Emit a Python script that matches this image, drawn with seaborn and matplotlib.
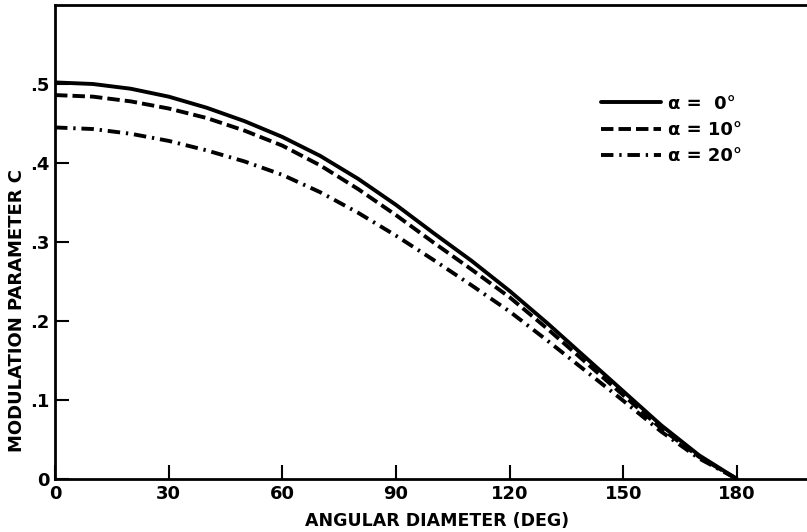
import numpy as np
import pandas as pd
import matplotlib
matplotlib.use("Agg")
import matplotlib.pyplot as plt
import seaborn as sns

# Data
angle = [0, 10, 20, 30, 40, 50, 60, 70, 80, 90, 100, 110, 120, 130, 140, 150, 160, 170, 180]
c_alpha0 = [0.502, 0.500, 0.494, 0.484, 0.470, 0.453, 0.433, 0.409, 0.380, 0.347, 0.311, 0.276,
            0.238, 0.197, 0.154, 0.111, 0.068, 0.030, 0.0]
c_alpha10 = [0.486, 0.484, 0.478, 0.469, 0.457, 0.441, 0.422, 0.397, 0.367, 0.334, 0.299, 0.265,
             0.230, 0.190, 0.148, 0.106, 0.064, 0.028, 0.0]
c_alpha20 = [0.445, 0.443, 0.437, 0.428, 0.416, 0.402, 0.385, 0.363, 0.337, 0.308, 0.277, 0.245,
             0.212, 0.175, 0.137, 0.099, 0.060, 0.026, 0.0]
series_labels = ["α =  0°", "α = 10°", "α = 20°"]
x_ticks = [0, 30, 60, 90, 120, 150, 180]
y_ticks = [0, 0.1, 0.2, 0.3, 0.4, 0.5]
y_tick_labels = ["0", ".1", ".2", ".3", ".4", ".5"]

df = pd.DataFrame({
    "angle": angle * 3,
    "C": c_alpha0 + c_alpha10 + c_alpha20,
    "series": [series_labels[0]] * len(angle) + [series_labels[1]] * len(angle) + [series_labels[2]] * len(angle),
})

sns.set_theme(style="ticks")
plt.rcParams['font.family'] = ['DejaVu Sans']
for k in ["text.color", "axes.labelcolor", "xtick.color", "ytick.color"]:
    plt.rcParams[k] = "black"

fig = plt.figure(figsize=(8.07, 5.32), dpi=100)
ax_w = 770 / 807
ax = fig.add_axes([55 / 807, 53 / 532, ax_w, 474 / 532])

dashes = {series_labels[0]: "", series_labels[1]: (3.2, 1.3), series_labels[2]: (3.2, 1.5, 0.6, 1.5)}
sns.lineplot(data=df, x="angle", y="C", hue="series", style="series",
             palette=["black"] * 3, dashes=dashes, linewidth=2.8, ax=ax, legend=False)

ax.set_xlim(0, 770 / (682 / 180))
ax.set_ylim(0, 0.6)
ax.set_xticks(x_ticks)
ax.set_xticklabels([str(t) for t in x_ticks], fontsize=13, fontweight="bold")
ax.set_yticks(y_ticks)
ax.set_yticklabels(y_tick_labels, fontsize=13, fontweight="bold")
ax.tick_params(direction="in", length=10, width=1.5, color="black", pad=4)
for s in ["left", "bottom", "top"]:
    ax.spines[s].set_linewidth(2)
    ax.spines[s].set_color("black")
ax.spines["right"].set_visible(False)

ax.set_xlabel("ANGULAR DIAMETER (DEG)", fontsize=12.5, fontweight="bold")
ax.set_ylabel("MODULATION PARAMETER C", fontsize=13, fontweight="bold")
ax.xaxis.set_label_coords((437 - 55) / 770, -0.07)
ax.yaxis.set_label_coords((26 - 55) / 770, (479 - 310) / 474)

handles = ax.lines[:3]
leg = ax.legend(handles, series_labels, loc="upper left", bbox_to_anchor=(0.688, 0.845),
                frameon=False, handlelength=3.3, handletextpad=0.4, labelspacing=0.45,
                prop={"size": 13, "weight": "bold"})

fig.savefig("out.png", dpi=100)
